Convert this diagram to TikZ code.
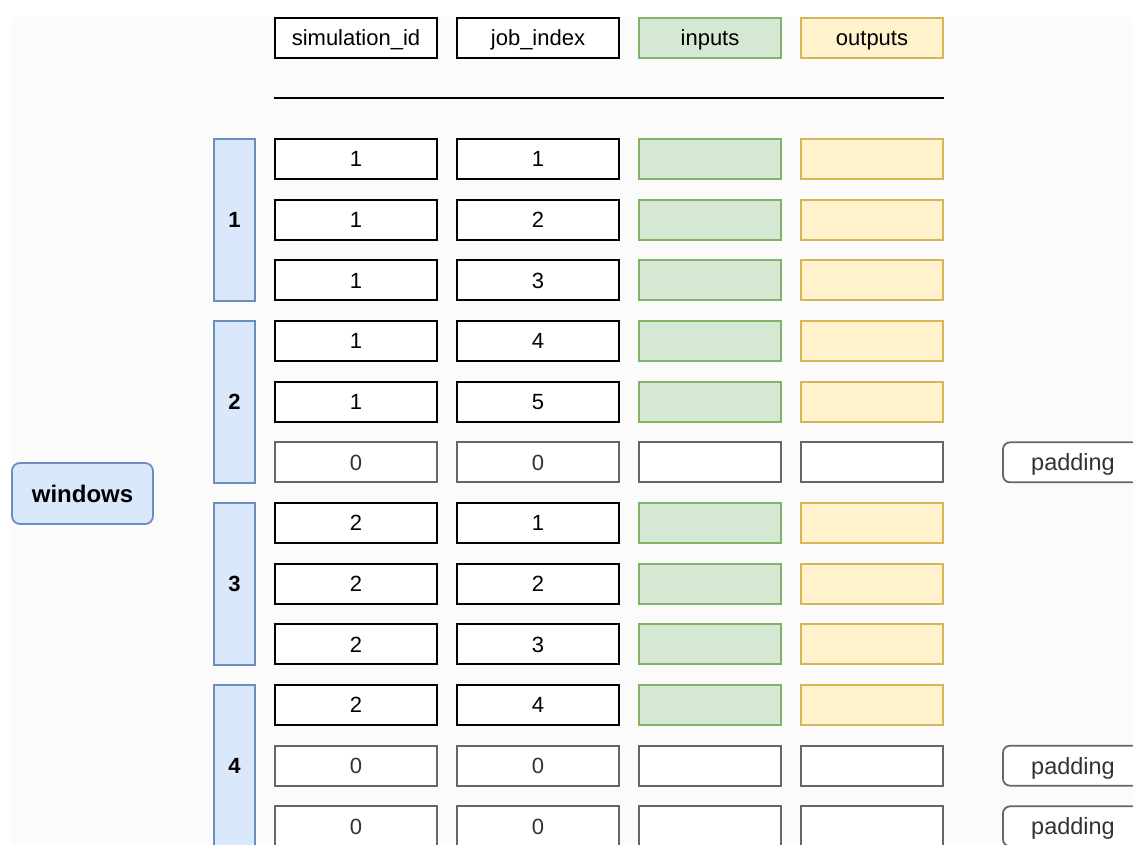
\documentclass[tikz,border=0pt]{standalone}
\usepackage{fontspec}
\setmainfont{Liberation Sans}
\definecolor{pagegray}{HTML}{FBFBFB}
\definecolor{greenfill}{HTML}{D5E8D4}
\definecolor{greenline}{HTML}{82B366}
\definecolor{yellowfill}{HTML}{FFF2CC}
\definecolor{yellowline}{HTML}{D6B656}
\definecolor{bluefill}{HTML}{DAE8FC}
\definecolor{blueline}{HTML}{6C8EBF}
\definecolor{padline}{HTML}{666666}
\definecolor{padtext}{HTML}{333333}
\begin{document}
\begin{tikzpicture}[x=1pt,y=-1pt,
  cellbase/.style={draw, line width=2pt, inner sep=0pt, minimum height=40pt,
    text height=15.8pt, text depth=0pt, font=\fontsize{22}{26}\selectfont},
  idcell/.style={cellbase, fill=white, minimum width=162pt},
  incell/.style={cellbase, draw=greenline, fill=greenfill, minimum width=142pt},
  outcell/.style={cellbase, draw=yellowline, fill=yellowfill, minimum width=142pt},
  padid/.style={cellbase, draw=padline, fill=white, text=padtext, minimum width=162pt, line width=1.8pt},
  padio/.style={cellbase, draw=padline, fill=white, minimum width=142pt, line width=1.8pt},
  winbar/.style={draw=blueline, fill=bluefill, line width=1.8pt, inner sep=0pt,
    minimum width=41pt, minimum height=162pt, text height=15.8pt, text depth=0pt,
    font=\bfseries\fontsize{22}{26}\selectfont},
  padnote/.style={draw=padline, fill=white, text=padtext, rounded corners=7pt, line width=1.8pt,
    inner sep=0pt, minimum width=140pt, minimum height=40pt, text height=16.8pt, text depth=0pt,
    font=\fontsize{23.5}{28}\selectfont},
  winlabel/.style={draw=blueline, fill=bluefill, rounded corners=8pt, line width=1.8pt,
    inner sep=0pt, minimum width=141pt, minimum height=61pt, text height=17.2pt, text depth=0pt,
    font=\bfseries\fontsize{24}{28}\selectfont}
]
\useasboundingbox (0,0) rectangle (1133,844);
\fill[white] (0,0) rectangle (1133,844);
\fill[pagegray] (11,17) rectangle (1133,844);

% column headers
\node[idcell]  (hsim) at (356,38) {simulation\_id};
\node[idcell]  (hjob) at (538,38) {job\_index};
\node[incell]  (hin)  at (710,38) {inputs};
\node[outcell] (hout) at (872,38) {outputs};
\draw[line width=2pt] (hsim.west |- 0,98) -- (hout.east |- 0,98);

% data rows: simulation id, job index (0/0 marks a padded row)
\foreach \r/\s/\j in {0/1/1, 1/1/2, 2/1/3, 3/1/4, 4/1/5, 6/2/1, 7/2/2, 8/2/3, 9/2/4} {
  \pgfmathsetmacro{\yy}{159+182*\r/3}
  \node[idcell]  (sim\r) at (356,\yy) {\s};
  \node[idcell]  (job\r) at (538,\yy) {\j};
  \node[incell]  (in\r)  at (710,\yy) {};
  \node[outcell] (out\r) at (872,\yy) {};
}
\foreach \r in {5, 10, 11} {
  \pgfmathsetmacro{\yy}{159+182*\r/3}
  \node[padid] (sim\r) at (356,\yy) {0};
  \node[padid] (job\r) at (538,\yy) {0};
  \node[padio] (in\r)  at (710,\yy) {};
  \node[padio] (out\r) at (872,\yy) {};
  \node[padnote] (pad\r) at (1073,\yy) {padding};
}

% windows of three rows each
\foreach \w in {1,2,3,4} {
  \node[winbar] (win\w) at (234.5,{220+182*(\w-1)}) {\w};
}
\node[winlabel] (windows) at (82.5,493.5) {windows};
\end{tikzpicture}
\end{document}
